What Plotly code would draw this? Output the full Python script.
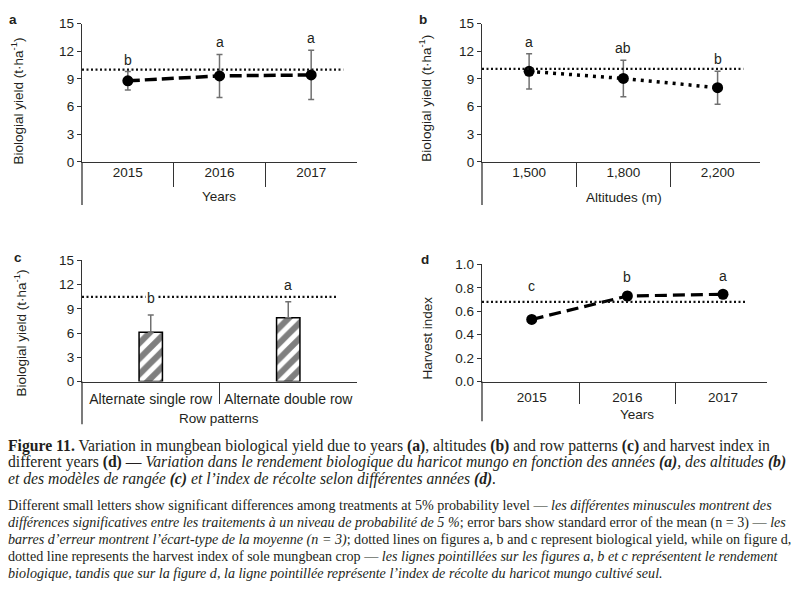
import plotly.graph_objects as go

# ---------------- data ----------------
years = ["2015", "2016", "2017"]
yield_years = [8.8, 9.33, 9.43]
yield_years_se = [1.0, 2.33, 2.67]
letters_years = ["b", "a", "a"]
sole_yield_years = 10.0

altitudes = ["1,500", "1,800", "2,200"]
yield_alt = [9.82, 9.05, 8.05]
yield_alt_se = [1.92, 1.98, 1.78]
letters_alt = ["a", "ab", "b"]
sole_yield_alt = 10.1

row_patterns = ["Alternate single row", "Alternate double row"]
yield_rows = [6.1, 7.9]
yield_rows_se = [2.15, 2.0]
letters_rows = ["b", "a"]
sole_yield_rows = 10.5

hi_years = ["2015", "2016", "2017"]
harvest_index = [0.53, 0.73, 0.745]
harvest_index_se = [0.01, 0.035, 0.02]
letters_hi = ["c", "b", "a"]
sole_hi = 0.68

yield_ticks = [0, 3, 6, 9, 12, 15]
hi_ticks = [0.0, 0.2, 0.4, 0.6, 0.8, 1.0]

# ---------------- style ----------------
W, H = 798, 595
TXT = "#231f20"
AX = "#333333"
ERR = "#707070"
FONT = "Liberation Sans"
SERIF = "Liberation Serif"

fig = go.Figure()


def px2x(p):
    return p / W


def py2y(p):
    return 1 - p / H


panels = {
    1: dict(xd=[px2x(82), px2x(357)], yd=[py2y(159), py2y(17)], xr=[-0.5, 2.5], yr=[0, 15],
            cats=years, div_len=24, ext=-0.31, stand=-2),
    2: dict(xd=[px2x(482), px2x(760)], yd=[py2y(159), py2y(17)], xr=[-0.5, 2.45], yr=[0, 15],
            cats=altitudes, div_len=24, ext=-0.31, stand=-2),
    3: dict(xd=[px2x(82), px2x(357)], yd=[py2y(384.3), py2y(260)], xr=[-0.5, 1.5], yr=[0, 15],
            cats=row_patterns, div_len=21, ext=-0.352, stand=4),
    4: dict(xd=[px2x(482), px2x(767)], yd=[py2y(384.3), py2y(264)], xr=[-0.52, 2.46], yr=[0, 1.0],
            cats=hi_years, div_len=21, ext=-0.338, stand=3),
}

layout = dict(width=W, height=H, margin=dict(l=0, r=0, t=0, b=0),
              paper_bgcolor="white", plot_bgcolor="white", showlegend=False,
              font=dict(family=FONT, color=TXT, size=13))
shapes = []
annotations = []

for n, p in panels.items():
    sx = "" if n == 1 else str(n)
    ncat = len(p["cats"])
    divs = [i + 0.5 for i in range(ncat - 1)]
    layout["xaxis" + sx] = dict(
        domain=p["xd"], anchor="y" + sx, range=p["xr"], showgrid=False, zeroline=False,
        showline=True, linecolor=AX, linewidth=1.3,
        tickmode="array", tickvals=list(range(ncat)), ticktext=p["cats"],
        ticks="", ticklabelstandoff=p["stand"],
        tickfont=dict(size=14 if n == 3 else 13.5, color=TXT),
        minor=dict(tickmode="array", tickvals=divs, ticks="outside", ticklen=p["div_len"],
                   tickwidth=1.3, tickcolor=AX, showgrid=False),
        fixedrange=True)
    yt = hi_ticks if n == 4 else yield_ticks
    layout["yaxis" + sx] = dict(
        domain=p["yd"], anchor="x" + sx, range=p["yr"], showgrid=False, zeroline=False,
        showline=True, linecolor=AX, linewidth=1.3,
        tickmode="array", tickvals=yt,
        ticktext=[f"{v:.1f}" for v in yt] if n == 4 else [str(v) for v in yt],
        ticks="outside", ticklen=4, tickwidth=1, tickcolor=AX,
        tickfont=dict(size=13.5, color=TXT), fixedrange=True)
    # y-axis line extending below the x-axis
    shapes.append(dict(type="line", xref=f"x{sx} domain", yref=f"y{sx} domain",
                       x0=0, x1=0, y0=p["ext"], y1=0, line=dict(color=AX, width=1.3)))


def ref_line(sx, val, frac):
    shapes.append(dict(type="line", xref=f"x{sx} domain", yref=f"y{sx}",
                       x0=0, x1=frac, y0=val, y1=val,
                       line=dict(color="#111111", width=2.2, dash="2px,2.5px")))


# ---- panel a ----
xa = list(range(len(years)))
fig.add_trace(go.Scatter(
    x=xa, y=yield_years, xaxis="x", yaxis="y", mode="lines+markers",
    line=dict(color="black", width=3.5, dash="12px,5px"),
    marker=dict(color="black", size=11),
    error_y=dict(type="data", array=yield_years_se, color=ERR, thickness=1.5, width=3)))
ref_line("", sole_yield_years, 0.95)
for i, l in enumerate(letters_years):
    annotations.append(dict(x=xa[i], y=yield_years[i] + yield_years_se[i], xref="x", yref="y",
                            text=l, showarrow=False, yshift=12, font=dict(size=14, color=TXT)))

# ---- panel b ----
xb = list(range(len(altitudes)))
fig.add_trace(go.Scatter(
    x=xb, y=yield_alt, xaxis="x2", yaxis="y2", mode="lines+markers",
    line=dict(color="black", width=3.5, dash="3px,5px"),
    marker=dict(color="black", size=11),
    error_y=dict(type="data", array=yield_alt_se, color=ERR, thickness=1.5, width=3)))
ref_line("2", sole_yield_alt, 0.94)
for i, l in enumerate(letters_alt):
    annotations.append(dict(x=xb[i], y=yield_alt[i] + yield_alt_se[i], xref="x2", yref="y2",
                            text=l, showarrow=False, yshift=12, font=dict(size=14, color=TXT)))

# ---- panel c ----
xc = list(range(len(row_patterns)))
ref_line("3", sole_yield_rows, 0.93)
fig.add_trace(go.Bar(
    x=xc, y=yield_rows, xaxis="x3", yaxis="y3", width=0.17,
    marker=dict(color="white", line=dict(color="black", width=1.5),
                pattern=dict(shape="/", fgcolor="black", bgcolor="white", size=11, solidity=0.55)),
    error_y=dict(type="data", array=yield_rows_se, arrayminus=[0] * len(xc), symmetric=False,
                 color=ERR, thickness=1.5, width=3)))
for i, l in enumerate(letters_rows):
    annotations.append(dict(x=xc[i], y=yield_rows[i] + yield_rows_se[i], xref="x3", yref="y3",
                            text=l, showarrow=False, yshift=17, bgcolor="white",
                            borderpad=1, font=dict(size=14, color=TXT)))

# ---- panel d ----
xd = list(range(len(hi_years)))
fig.add_trace(go.Scatter(
    x=xd, y=harvest_index, xaxis="x4", yaxis="y4", mode="lines+markers",
    line=dict(color="black", width=3.2, dash="12px,6px"),
    marker=dict(color="black", size=11),
    error_y=dict(type="data", array=harvest_index_se, color=ERR, thickness=1.5, width=3)))
ref_line("4", sole_hi, 0.93)
d_shift = [33, 19, 18]
for i, l in enumerate(letters_hi):
    annotations.append(dict(x=xd[i], y=harvest_index[i], xref="x4", yref="y4",
                            text=l, showarrow=False, yshift=d_shift[i], font=dict(size=14, color=TXT)))

# ---- axis titles / panel letters ----
def pann(text, x, y, size=13.5, angle=0, bold=False, family=FONT):
    annotations.append(dict(text=f"<b>{text}</b>" if bold else text, x=px2x(x), y=py2y(y),
                            xref="paper", yref="paper", showarrow=False, textangle=angle,
                            xanchor="center", yanchor="middle",
                            font=dict(size=size, color=TXT, family=family)))


ytitle = "Biologial yield (t·ha<sup>-1</sup>)"
pann(ytitle, 17, 97, angle=-90)
pann(ytitle, 425, 94, angle=-90)
pann(ytitle, 20, 335, angle=-90)
pann("Harvest index", 427, 340, angle=-90)
pann("Years", 219, 194)
pann("Altitudes (m)", 624, 195)
pann("Row patterns", 219, 422)
pann("Years", 637, 418)
pann("a", 13, 13, size=13.5, bold=True)
pann("b", 423, 13, size=13.5, bold=True)
pann("c", 18, 257, size=13.5, bold=True)
pann("d", 425, 259, size=13.5, bold=True)

# ---- caption ----
cap1 = [
    "<b>Figure 11.</b> Variation in mungbean biological yield due to years <b>(a)</b>, altitudes <b>(b)</b> and row patterns <b>(c)</b> and harvest index in",
    "different years <b>(d)</b> — <i>Variation dans le rendement biologique du haricot mungo en fonction des années <b>(a)</b>, des altitudes <b>(b)</b></i>",
    "<i>et des modèles de rangée <b>(c)</b> et l’index de récolte selon différentes années <b>(d)</b>.</i>",
]
cap2 = [
    "Different small letters show significant differences among treatments at 5% probability level — <i>les différentes minuscules montrent des</i>",
    "<i>différences significatives entre les traitements à un niveau de probabilité de 5 %</i>; error bars show standard error of the mean (n = 3) — <i>les</i>",
    "<i>barres d’erreur montrent l’écart-type de la moyenne (n = 3)</i>; dotted lines on figures a, b and c represent biological yield, while on figure d,",
    "dotted line represents the harvest index of sole mungbean crop — <i>les lignes pointillées sur les figures a, b et c représentent le rendement</i>",
    "<i>biologique, tandis que sur la figure d, la ligne pointillée représente l’index de récolte du haricot mungo cultivé seul.</i>",
]
for t, y in zip(cap1, [450, 467, 484]):
    annotations.append(dict(text=t, x=px2x(6), y=py2y(y), xref="paper", yref="paper",
                            showarrow=False, xanchor="left", yanchor="middle",
                            font=dict(size=15.7, color=TXT, family=SERIF)))
for t, y in zip(cap2, [511, 529, 546, 563, 581]):
    annotations.append(dict(text=t, x=px2x(6), y=py2y(y), xref="paper", yref="paper",
                            showarrow=False, xanchor="left", yanchor="middle",
                            font=dict(size=14.1, color=TXT, family=SERIF)))

layout["shapes"] = shapes
layout["annotations"] = annotations
fig.update_layout(**layout)
fig.write_html("out.html")
